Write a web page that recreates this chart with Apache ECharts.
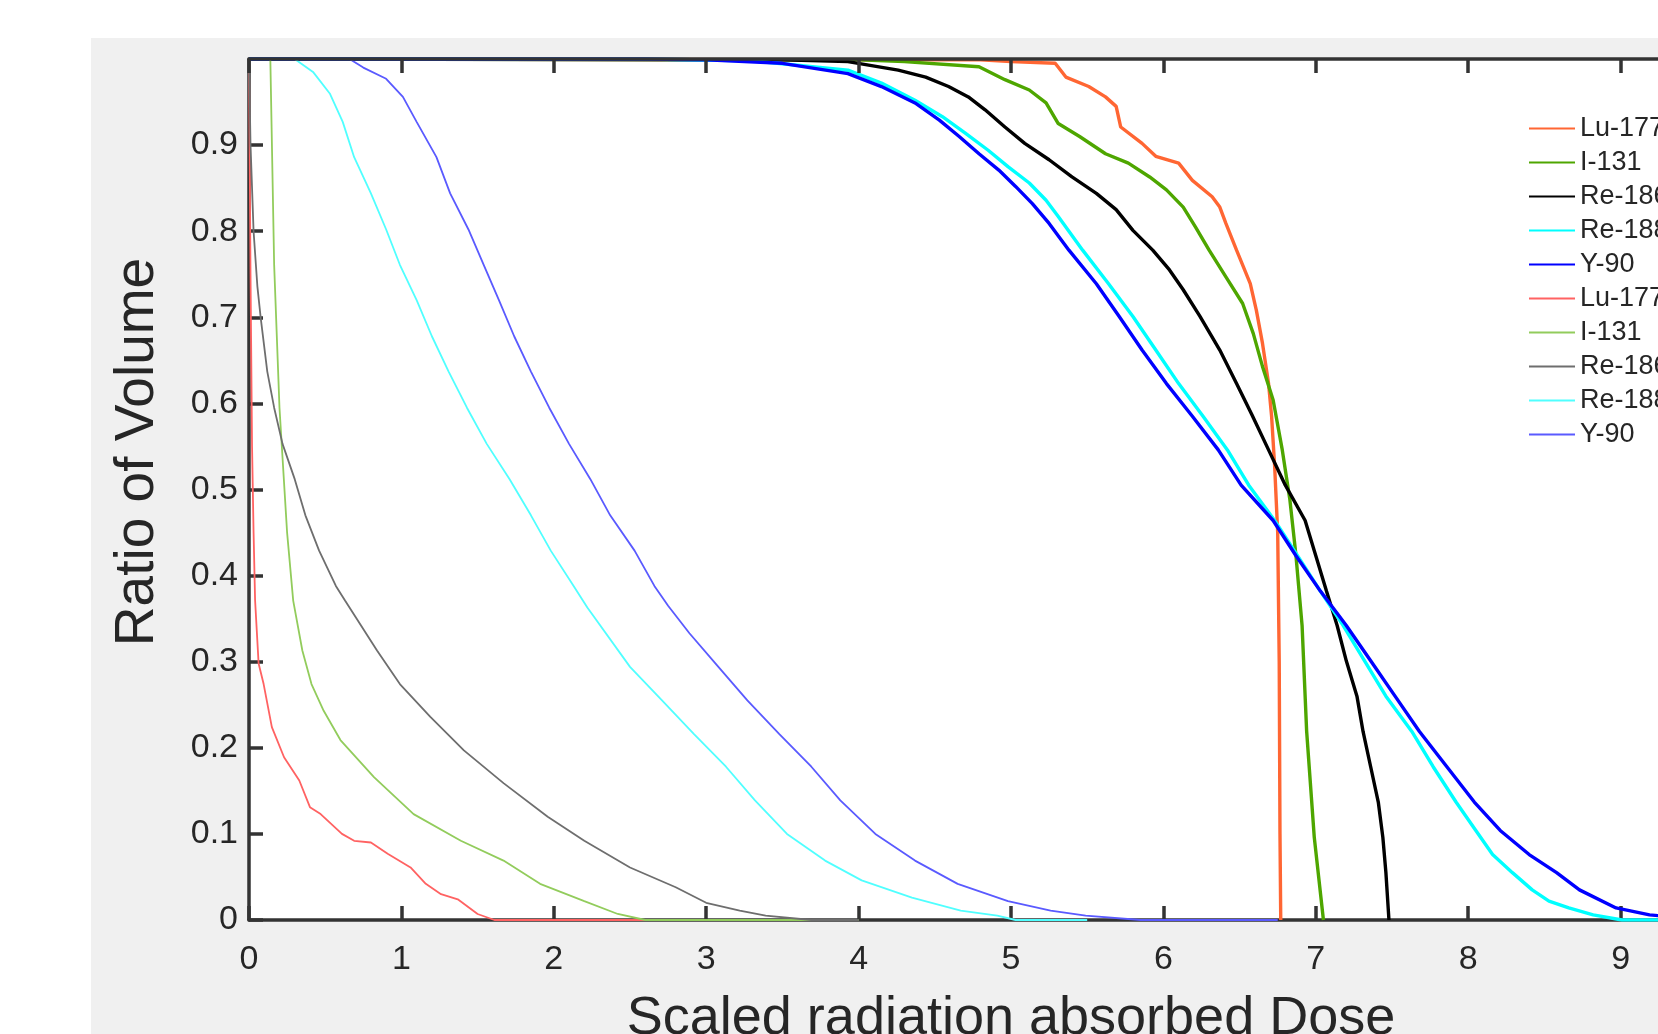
<!DOCTYPE html>
<html><head><meta charset="utf-8">
<script src="https://cdn.jsdelivr.net/npm/echarts@6/dist/echarts.min.js"></script>
<style>html,body{margin:0;padding:0;background:#fff;}#chart{width:1658px;height:1034px;}</style>
</head><body><div id="chart"></div>
<script>
// ---- data ----
const seriesNames = ['Lu-177', 'I-131', 'Re-186', 'Re-188', 'Y-90'];
const xTickLabels = ['0','1','2','3','4','5','6','7','8','9','10'];
const yTickLabels = ['0','0.1','0.2','0.3','0.4','0.5','0.6','0.7','0.8','0.9','1'];
const xTitle = 'Scaled radiation absorbed Dose';
const yTitle = 'Ratio of Volume';

// first set (dose, volume ratio)
const lu177Set1 = [[0,1],[4.8,0.999],[5.0,0.997],[5.29,0.995],[5.36,0.979],[5.51,0.968],[5.62,0.956],[5.69,0.945],[5.72,0.921],[5.86,0.902],[5.95,0.887],[6.1,0.879],[6.19,0.859],[6.32,0.84],[6.37,0.828],[6.41,0.809],[6.48,0.778],[6.57,0.739],[6.61,0.708],[6.65,0.67],[6.69,0.623],[6.71,0.585],[6.73,0.527],[6.75,0.45],[6.76,0.3],[6.765,0.1],[6.77,0]];
const i131Set1 = [[0,1],[4.0,0.999],[4.3,0.997],[4.79,0.991],[4.96,0.976],[5.12,0.964],[5.23,0.949],[5.31,0.925],[5.45,0.91],[5.62,0.89],[5.77,0.879],[5.91,0.863],[6.02,0.848],[6.13,0.828],[6.21,0.805],[6.3,0.778],[6.41,0.747],[6.52,0.716],[6.59,0.681],[6.65,0.643],[6.72,0.604],[6.78,0.546],[6.83,0.488],[6.87,0.423],[6.91,0.342],[6.94,0.219],[6.99,0.096],[7.05,0]];
const re186Set1 = [[0,1],[3.5,0.999],[3.93,0.997],[4.26,0.987],[4.44,0.979],[4.59,0.968],[4.72,0.956],[4.83,0.941],[4.96,0.921],[5.09,0.902],[5.25,0.883],[5.4,0.863],[5.56,0.844],[5.69,0.825],[5.8,0.801],[5.93,0.778],[6.04,0.755],[6.13,0.732],[6.24,0.701],[6.37,0.662],[6.48,0.623],[6.58,0.587],[6.69,0.546],[6.8,0.505],[6.93,0.464],[7.0,0.423],[7.07,0.382],[7.14,0.342],[7.2,0.301],[7.27,0.26],[7.31,0.219],[7.36,0.178],[7.41,0.137],[7.44,0.096],[7.46,0.055],[7.48,0]];
const re188Set1 = [[0,1],[2.6,1],[3.3,0.998],[3.93,0.987],[4.15,0.972],[4.37,0.952],[4.55,0.933],[4.7,0.914],[4.85,0.894],[4.98,0.875],[5.12,0.856],[5.23,0.836],[5.31,0.817],[5.47,0.778],[5.64,0.739],[5.8,0.701],[5.95,0.662],[6.1,0.623],[6.26,0.585],[6.42,0.546],[6.56,0.505],[6.73,0.464],[6.88,0.423],[7.03,0.382],[7.18,0.342],[7.32,0.301],[7.46,0.26],[7.63,0.219],[7.77,0.178],[7.92,0.137],[8.05,0.104],[8.16,0.076],[8.29,0.055],[8.42,0.035],[8.53,0.022],[8.66,0.014],[8.82,0.006],[9.01,0],[9.3,0]];
const y90Set1 = [[0,1],[2.6,1],[3.0,0.999],[3.5,0.995],[3.93,0.983],[4.15,0.968],[4.37,0.949],[4.53,0.929],[4.66,0.91],[4.79,0.89],[4.92,0.871],[5.03,0.852],[5.14,0.832],[5.25,0.809],[5.38,0.778],[5.56,0.739],[5.71,0.701],[5.86,0.662],[6.02,0.623],[6.19,0.585],[6.36,0.546],[6.51,0.505],[6.72,0.464],[6.87,0.423],[7.03,0.382],[7.2,0.342],[7.36,0.301],[7.52,0.26],[7.68,0.219],[7.86,0.178],[8.04,0.137],[8.21,0.104],[8.4,0.076],[8.58,0.055],[8.73,0.035],[8.97,0.014],[9.19,0.006],[9.5,0.001],[9.8,0]];

// second set (dose, volume ratio)
const lu177Set2 = [[0,1],[0.01,0.75],[0.02,0.55],[0.03,0.45],[0.04,0.371],[0.063,0.298],[0.096,0.274],[0.15,0.224],[0.23,0.189],[0.33,0.162],[0.4,0.131],[0.47,0.123],[0.61,0.1],[0.69,0.092],[0.8,0.09],[0.91,0.077],[1.06,0.061],[1.16,0.042],[1.26,0.03],[1.37,0.024],[1.5,0.007],[1.61,0],[3.0,0]];
const i131Set2 = [[0,1],[0.14,1],[0.165,0.761],[0.2,0.595],[0.25,0.45],[0.29,0.371],[0.35,0.313],[0.41,0.274],[0.49,0.243],[0.6,0.209],[0.82,0.166],[1.08,0.123],[1.39,0.092],[1.67,0.069],[1.91,0.042],[2.2,0.022],[2.42,0.007],[2.6,0],[4.0,0]];
const re186Set2 = [[0,1],[0.01,0.9],[0.03,0.8],[0.055,0.736],[0.077,0.699],[0.12,0.637],[0.165,0.595],[0.22,0.553],[0.3,0.512],[0.37,0.47],[0.46,0.429],[0.57,0.388],[0.63,0.371],[0.84,0.313],[0.99,0.274],[1.19,0.236],[1.41,0.197],[1.67,0.159],[1.96,0.12],[2.2,0.092],[2.5,0.061],[2.8,0.038],[3.0,0.02],[3.22,0.011],[3.39,0.005],[3.69,0],[4.0,0]];
const re188Set2 = [[0,1],[0.3,1],[0.42,0.985],[0.53,0.96],[0.615,0.927],[0.69,0.886],[0.8,0.844],[0.9,0.802],[0.99,0.761],[1.1,0.72],[1.2,0.678],[1.31,0.637],[1.43,0.595],[1.56,0.553],[1.71,0.512],[1.85,0.47],[1.98,0.429],[2.13,0.388],[2.22,0.363],[2.5,0.294],[2.71,0.255],[2.92,0.216],[3.13,0.178],[3.32,0.139],[3.53,0.1],[3.78,0.069],[4.02,0.046],[4.35,0.026],[4.67,0.011],[4.91,0.005],[5.03,0],[5.5,0]];
const y90Set2 = [[0,1],[0.66,1],[0.75,0.99],[0.9,0.977],[1.01,0.956],[1.1,0.927],[1.23,0.886],[1.32,0.844],[1.44,0.802],[1.54,0.761],[1.64,0.72],[1.74,0.678],[1.85,0.637],[1.97,0.595],[2.1,0.553],[2.24,0.512],[2.37,0.47],[2.53,0.429],[2.66,0.388],[2.75,0.365],[2.89,0.333],[3.08,0.294],[3.27,0.255],[3.48,0.216],[3.69,0.178],[3.88,0.139],[4.11,0.1],[4.37,0.069],[4.65,0.042],[4.98,0.022],[5.26,0.011],[5.49,0.005],[5.85,0],[6.75,0]];

// ---- styles ----
const FONT = '"Liberation Sans", Arial, Helvetica, sans-serif';
const TXT = '#262626';
const AX = '#333333';
const colorsSet1 = ['#ff6633', '#4ea600', '#000000', '#00ffff', '#0000ff'];
const colorsSet2 = ['#ff6262', '#92cc5c', '#6e6e6e', '#50ffff', '#5a5aff'];
const SUFFIX2 = ' (2)';

const set1 = [lu177Set1, i131Set1, re186Set1, re188Set1, y90Set1];
const set2 = [lu177Set2, i131Set2, re186Set2, re188Set2, y90Set2];

const series = [];
set1.forEach((d, i) => series.push({
  type: 'line', name: seriesNames[i], data: d, symbol: 'none', showSymbol: false,
  lineStyle: { width: 3.4, color: colorsSet1[i] }, itemStyle: { color: colorsSet1[i] },
  xAxisIndex: 0, yAxisIndex: 0, z: 2
}));
set2.forEach((d, i) => series.push({
  type: 'line', name: seriesNames[i] + SUFFIX2, data: d, symbol: 'none', showSymbol: false,
  lineStyle: { width: 1.8, color: colorsSet2[i] }, itemStyle: { color: colorsSet2[i] },
  xAxisIndex: 0, yAxisIndex: 0, z: 2
}));

const chart = echarts.init(document.getElementById('chart'), null, { renderer: 'canvas' });
const tick = { show: true, inside: true, length: 14, lineStyle: { color: AX, width: 3.5 } };
const line = { show: true, onZero: false, lineStyle: { color: AX, width: 3.5 } };

chart.setOption({
  animation: false,
  backgroundColor: '#ffffff',
  graphic: [
    { type: 'rect', z: -100, silent: true, shape: { x: 91, y: 38, width: 1567, height: 996 }, style: { fill: '#f0f0f0' } },
    { type: 'text', z: 10, x: 138, y: 452, rotation: Math.PI / 2,
      style: { text: yTitle, font: '55px ' + FONT, fill: TXT, textAlign: 'center', textVerticalAlign: 'middle', align: 'center', verticalAlign: 'middle' } }
  ],
  grid: { left: 249, top: 59, width: 1524, height: 861, show: true, backgroundColor: '#ffffff', borderWidth: 0,
          containLabel: false, outerBoundsMode: 'none' },
  legend: {
    orient: 'vertical', left: 1528, top: 115, padding: 0,
    itemWidth: 46, itemHeight: 1, itemGap: 7,
    itemStyle: { borderWidth: 0 },
    textStyle: { fontFamily: FONT, fontSize: 27, lineHeight: 27, color: TXT },
    formatter: name => name.replace(SUFFIX2, ''),
    data: series.map(s => s.name),
    selectedMode: false
  },
  xAxis: [
    { type: 'value', position: 'bottom', min: 0, max: 10, interval: 1,
      name: xTitle, nameLocation: 'middle', nameGap: 72,
      nameTextStyle: { fontFamily: FONT, fontSize: 54, color: TXT },
      axisLine: line, axisTick: tick, splitLine: { show: false },
      axisLabel: { margin: 23, fontFamily: FONT, fontSize: 34, color: TXT, formatter: (v, i) => xTickLabels[i] } },
    { type: 'value', position: 'top', min: 0, max: 10, interval: 1, zlevel: 1,
      axisLine: line, axisTick: tick, splitLine: { show: false }, axisLabel: { show: false } }
  ],
  yAxis: [
    { type: 'value', position: 'left', min: 0, max: 1, interval: 0.1,
      axisLine: line, axisTick: tick, splitLine: { show: false },
      axisLabel: { margin: 11, fontFamily: FONT, fontSize: 34, color: TXT, showMaxLabel: false, formatter: (v, i) => yTickLabels[i] } }
  ],
  series: series
});
</script></body></html>
